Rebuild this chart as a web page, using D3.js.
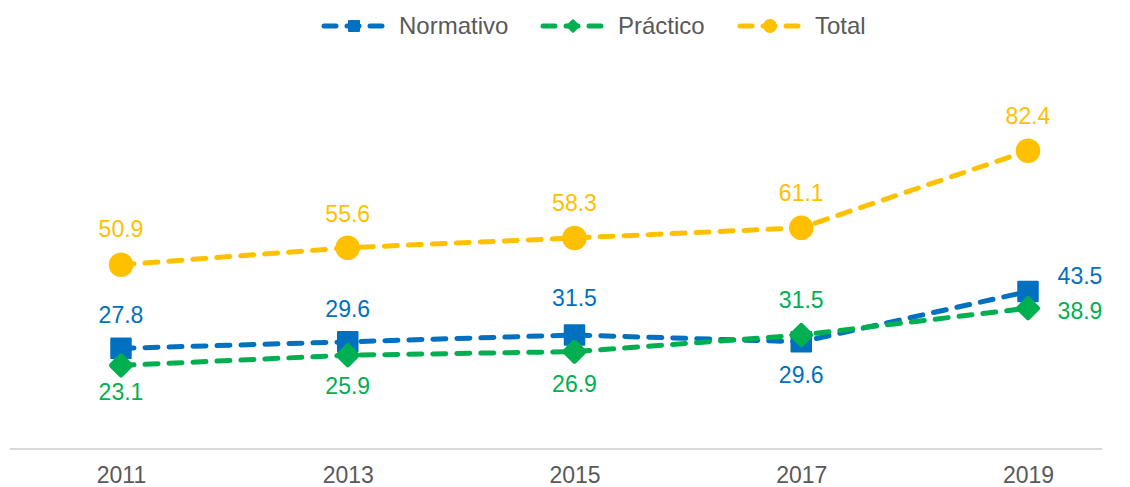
<!DOCTYPE html>
<html>
<head>
<meta charset="utf-8">
<script src="https://cdn.jsdelivr.net/npm/d3@7"></script>
<style>
  body { margin: 0; background: #fff; }
  text { font-family: "Liberation Sans", Arial, sans-serif; }
</style>
</head>
<body>
<svg width="1130" height="487"></svg>
<script>
const years = ["2011", "2013", "2015", "2017", "2019"];
const normativo = [27.8, 29.6, 31.5, 29.6, 43.5];
const practico = [23.1, 25.9, 26.9, 31.5, 38.9];
const total = [50.9, 55.6, 58.3, 61.1, 82.4];

// label placement per point: [dx, dy]
const normLabelPos = [[0, -33], [0, -33], [0, -37], [0, 33], [52, -16]];
const pracLabelPos = [[0, 27], [0, 31], [0, 32], [0, -35], [52, 3]];
const totLabelPos = [[0, -36], [0, -34], [0, -35], [0, -35], [0, -35]];

const svg = d3.select("svg");

const x = d3.scalePoint().domain(years).range([121, 1028]);
const y = d3.scaleLinear().domain([0, 100]).range([449, 87]);

// rounded diamond marker
const diamond = {
    draw(ctx, size) {
        const r = Math.sqrt(size) / 2;
        ctx.moveTo(0, -r);
        ctx.lineTo(r, 0);
        ctx.lineTo(0, r);
        ctx.lineTo(-r, 0);
        ctx.closePath();
    }
};

const series = [
    { name: "Normativo", values: normativo, color: "#0070C0", symbol: d3.symbolSquare, size: 380, legSize: 100, labels: normLabelPos },
    { name: "Práctico", values: practico, color: "#00B050", symbol: diamond, size: 360, legSize: 110, labels: pracLabelPos },
    { name: "Total", values: total, color: "#FFC000", symbol: d3.symbolCircle, size: 400, legSize: 110, labels: totLabelPos }
];

// axis line
svg.append("line")
    .attr("x1", 10).attr("x2", 1102)
    .attr("y1", y(0)).attr("y2", y(0))
    .attr("stroke", "#d9d9d9")
    .attr("stroke-width", 2);

const xAxis = svg.append("g")
    .attr("transform", `translate(0,${y(0)})`)
    .call(d3.axisBottom(x).tickSize(0).tickPadding(18));
xAxis.select(".domain").remove();
xAxis.selectAll("text")
    .attr("font-size", 23)
    .attr("font-family", "Liberation Sans, Arial, sans-serif")
    .attr("fill", "#595959")
    .attr("dy", "0.71em");

const line = d3.line()
    .x((d, i) => x(years[i]))
    .y(d => y(d));

for (const s of series) {
    const g = svg.append("g");
    g.append("path")
        .datum(s.values)
        .attr("d", line)
        .attr("fill", "none")
        .attr("stroke", s.color)
        .attr("stroke-width", 5)
        .attr("stroke-linecap", "round")
        .attr("stroke-dasharray", "13,11");
    g.selectAll(".m")
        .data(s.values)
        .join("path")
        .attr("transform", (d, i) => `translate(${x(years[i])},${y(d)})`)
        .attr("d", d3.symbol().type(s.symbol).size(s.size))
        .attr("fill", s.color)
        .attr("stroke", s.color)
        .attr("stroke-width", s.symbol === diamond ? 5 : 2)
        .attr("stroke-linejoin", "round");
    g.selectAll(".lbl")
        .data(s.values)
        .join("text")
        .attr("x", (d, i) => x(years[i]) + s.labels[i][0])
        .attr("y", (d, i) => y(d) + s.labels[i][1])
        .attr("dy", "0.35em")
        .attr("text-anchor", "middle")
        .attr("font-size", 23)
        .attr("fill", s.color)
        .text(d => d.toFixed(1));
}

// legend
const legendX = [321, 540, 737];
series.forEach((s, i) => {
    const lg = svg.append("g").attr("transform", `translate(${legendX[i]},26)`);
    lg.append("line")
        .attr("x1", 3).attr("x2", 63)
        .attr("stroke", s.color)
        .attr("stroke-width", 5)
        .attr("stroke-linecap", "round")
        .attr("stroke-dasharray", "12,11");
    lg.append("path")
        .attr("transform", "translate(33,0)")
        .attr("d", d3.symbol().type(s.symbol).size(s.legSize))
        .attr("fill", s.color)
        .attr("stroke", s.color)
        .attr("stroke-width", s.symbol === diamond ? 3 : 2)
        .attr("stroke-linejoin", "round");
    lg.append("text")
        .attr("x", 78)
        .attr("dy", "0.35em")
        .attr("font-size", 24)
        .attr("fill", "#595959")
        .text(s.name);
});
</script>
</body>
</html>
